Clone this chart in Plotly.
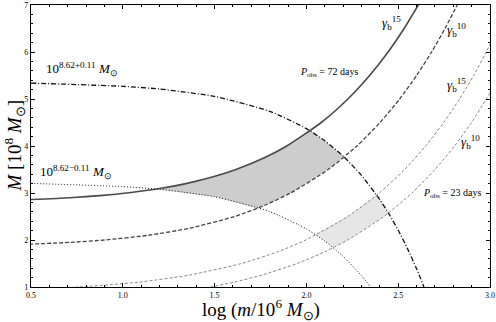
import numpy as np
import plotly.graph_objects as go

# ---- data (x = log(m/1e6 Msun), M in 1e8 Msun) ----
# upper mass limit 10^(8.62+0.11) (dash-dot)
x_upper = [0.5, 1.0, 1.2, 1.5, 1.8, 2.0, 2.1, 2.2, 2.3, 2.4, 2.45, 2.5, 2.55, 2.6, 2.65]
M_upper = [5.338, 5.27, 5.212, 5.054, 4.739, 4.37, 4.111, 3.785, 3.375, 2.858, 2.552, 2.208, 1.822, 1.389, 0.903]
# lower mass limit 10^(8.62-0.11) (dotted)
x_lower = [0.5, 1.0, 1.2, 1.5, 1.8, 2.0, 2.1, 2.2, 2.3, 2.35, 2.4]
M_lower = [3.204, 3.136, 3.078, 2.92, 2.605, 2.236, 1.977, 1.651, 1.241, 1.0, 0.724]
# P_obs = 72 days, gamma_b = 15 (solid)
x_g15_72 = [0.484, 0.710, 0.892, 1.022, 1.209, 1.344, 1.497, 1.616, 1.771, 1.893, 2.081, 2.226, 2.344, 2.445, 2.532, 2.609, 2.638]
M_g15_72 = [2.86, 2.9, 2.95, 3.0, 3.1, 3.2, 3.35, 3.5, 3.75, 4.0, 4.5, 5.0, 5.5, 6.0, 6.5, 7.0, 7.2]
# P_obs = 72 days, gamma_b = 10 (dashed)
x_g10_72 = [0.488, 0.716, 0.900, 1.138, 1.364, 1.609, 1.780, 1.914, 2.119, 2.275, 2.401, 2.508, 2.600, 2.682, 2.755, 2.821, 2.845]
M_g10_72 = [1.91, 1.95, 2.0, 2.1, 2.25, 2.5, 2.75, 3.0, 3.5, 4.0, 4.5, 5.0, 5.5, 6.0, 6.5, 7.0, 7.2]
# P_obs = 23 days, gamma_b = 15 (thin dashed)
x_g15_23 = [0.467, 0.761, 1.080, 1.358, 1.646, 1.844, 1.996, 2.225, 2.397, 2.535, 2.649, 2.748, 2.834, 2.911, 2.980, 3.018]
M_g15_23 = [0.95, 1.0, 1.1, 1.25, 1.5, 1.75, 2.0, 2.5, 3.0, 3.5, 4.0, 4.5, 5.0, 5.5, 6.0, 6.3]
# P_obs = 23 days, gamma_b = 10 (thin dashed)
x_g10_23 = [1.450, 1.478, 1.603, 1.754, 1.949, 2.101, 2.225, 2.422, 2.575, 2.700, 2.807, 2.899, 2.980, 3.010]
M_g10_23 = [0.98, 1.0, 1.1, 1.25, 1.5, 1.75, 2.0, 2.5, 3.0, 3.5, 4.0, 4.5, 5.0, 5.2]

x_ticks = [0.5, 1.0, 1.5, 2.0, 2.5, 3.0]
y_ticks = [1, 2, 3, 4, 5, 6, 7]

FONT = "Liberation Serif"

fig = go.Figure()

# ---- shaded allowed regions (derived from the curves above) ----
xg = np.linspace(0.5, 3.0, 2001)
def band(top_a, top_b, bot_a, bot_b):
    up = np.minimum(np.interp(xg, *top_a), np.interp(xg, *top_b))
    lo = np.maximum(np.interp(xg, *bot_a), np.interp(xg, *bot_b))
    m = up > lo
    return (np.concatenate([xg[m], xg[m][::-1]]),
            np.concatenate([up[m], lo[m][::-1]]))

bx, by = band((x_g15_72, M_g15_72), (x_upper, M_upper), (x_g10_72, M_g10_72), (x_lower, M_lower))
fig.add_trace(go.Scatter(x=bx, y=by, fill="toself", fillcolor="#cdcdcd", mode="none",
                         hoverinfo="skip", showlegend=False))
bx, by = band((x_g15_23, M_g15_23), (x_upper, M_upper), (x_g10_23, M_g10_23), (x_lower, M_lower))
fig.add_trace(go.Scatter(x=bx, y=by, fill="toself", fillcolor="#e6e6e6", mode="none",
                         hoverinfo="skip", showlegend=False))

def curve(x, y, color, width, dash):
    fig.add_trace(go.Scatter(x=x, y=y, mode="lines", showlegend=False,
                             line=dict(color=color, width=width, dash=dash, shape="spline", smoothing=0.6)))

curve(x_g10_23, M_g10_23, "#6a6a6a", 0.8, "3px,2px")
curve(x_g15_23, M_g15_23, "#6a6a6a", 0.8, "3px,2px")
curve(x_g10_72, M_g10_72, "#444444", 1.3, "4px,2px")
curve(x_g15_72, M_g15_72, "#4a4a4a", 1.6, "solid")
curve(x_lower, M_lower, "#111111", 1.0, "1px,2px")
curve(x_upper, M_upper, "#111111", 1.3, "5px,2px,1px,2px")

def label(x, y, text, size, **kw):
    fig.add_annotation(x=x, y=y, text=text, showarrow=False, xanchor="center", yanchor="middle",
                       font=dict(family=FONT, size=size, color="black"), **kw)

label(0.778, 5.64, "10<sup>8.62+0.11</sup> <i>M</i><sub>⊙</sub>", 13)
label(0.745, 3.45, "10<sup>8.62−0.11</sup> <i>M</i><sub>⊙</sub>", 13)
label(2.123, 5.57, "<i>P</i><sub>obs</sub> = 72 days", 10)
label(2.793, 3.00, "<i>P</i><sub>obs</sub> = 23 days", 10)
label(2.466, 6.62, "<i>γ</i><sub>b</sub><sup>15</sup>", 13)
label(2.82, 6.47, "<i>γ</i><sub>b</sub><sup>10</sup>", 13)
label(2.815, 5.30, "<i>γ</i><sub>b</sub><sup>15</sup>", 13)
label(2.896, 4.09, "<i>γ</i><sub>b</sub><sup>10</sup>", 13)

# axis titles (placed relative to the plot frame)
fig.add_annotation(xref="paper", yref="paper", x=0.5, y=-0.079, xanchor="center", yanchor="middle",
                   text="log (<i>m</i>/10<sup>6</sup> <i>M</i><sub>⊙</sub>)", showarrow=False,
                   font=dict(family=FONT, size=19, color="black"))
fig.add_annotation(xref="paper", yref="paper", x=-0.036, y=0.5, xanchor="center", yanchor="middle",
                   textangle=-90, text="<i>M</i> [10<sup>8</sup> <i>M</i><sub>⊙</sub>]", showarrow=False,
                   font=dict(family=FONT, size=19, color="black"))

axis_common = dict(showgrid=False, zeroline=False, showline=True, linecolor="black", linewidth=1.3,
                   mirror="ticks", ticks="inside", ticklen=4, tickwidth=0.8, tickcolor="black",
                   automargin=False, tickfont=dict(family=FONT, size=8, color="black"))
fig.update_xaxes(range=[0.5, 3.0], tickvals=x_ticks, ticktext=[f"{v:.1f}" for v in x_ticks],
                 minor=dict(dtick=0.1, ticks="inside", ticklen=2, tickcolor="black", tickwidth=0.6),
                 **axis_common)
fig.update_yaxes(range=[1, 7], tickvals=y_ticks, ticktext=[str(v) for v in y_ticks],
                 minor=dict(dtick=0.2, ticks="inside", ticklen=2, tickcolor="black", tickwidth=0.6),
                 **axis_common)

fig.update_layout(width=496, height=322, margin=dict(l=31, r=6, t=5, b=35, autoexpand=False),
                  plot_bgcolor="white", paper_bgcolor="white")

fig.write_html("out.html", config={"displayModeBar": False},
               post_script="document.body.style.margin='0';document.body.style.overflow='hidden';")
